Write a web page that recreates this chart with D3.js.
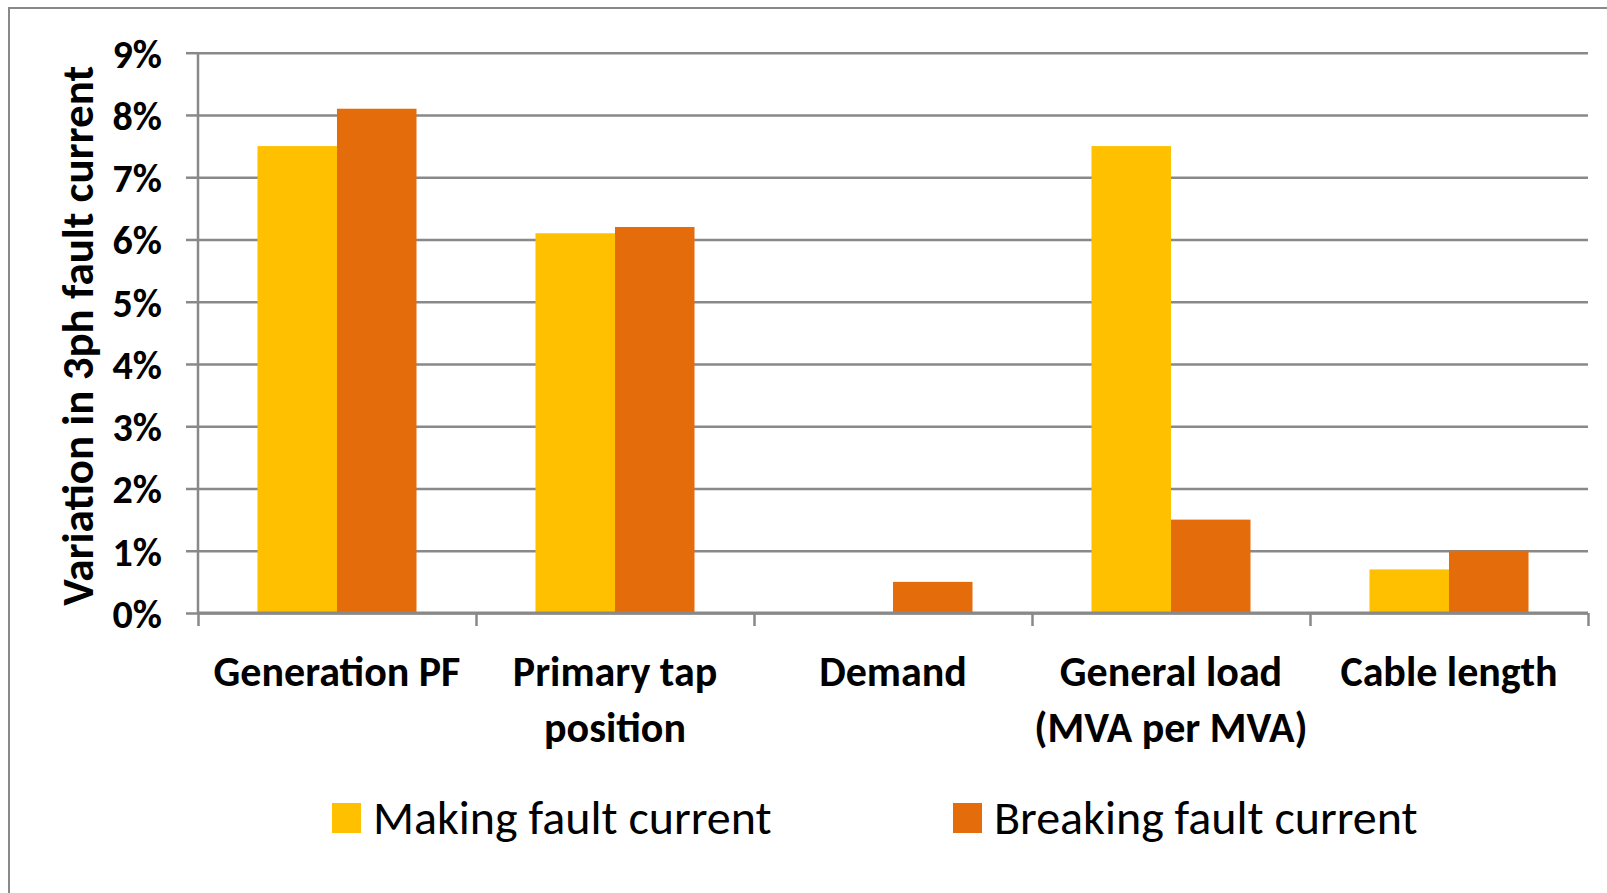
<!DOCTYPE html>
<html>
<head>
<meta charset="utf-8">
<script src="https://cdn.jsdelivr.net/npm/d3@7"></script>
<style>
  body { margin: 0; background: #fff; }
  svg { display: block; font-family: Carlito, Calibri, Lato, sans-serif; }
</style>
</head>
<body>
<svg id="chart" width="1607" height="893"></svg>
<script>
// data
let categories = [["Generation PF"], ["Primary tap", "position"], ["Demand"], ["General load", "(MVA per MVA)"], ["Cable length"]];
let seriesNames = ["Making fault current", "Breaking fault current"];
let making = [0.075, 0.061, 0, 0.075, 0.007];
let breaking = [0.081, 0.062, 0.005, 0.015, 0.010];
let yTicks = [0, 0.01, 0.02, 0.03, 0.04, 0.05, 0.06, 0.07, 0.08, 0.09];
let colors = ["#FFC000", "#E46C0A"];

let gridColor = "#898989";

let svg = d3.select('#chart');

// outer frame (cut off at right and bottom like the source)
svg.append('path')
  .attr('d', 'M9,900V8H1620')
  .style('fill', 'none')
  .style('stroke', gridColor)
  .style('stroke-width', '2px');

let plotL = 198, plotR = 1588, plotT = 52.7, plotB = 613;

let catKeys = categories.map(d => d.join(' '));

let x0 = d3.scaleBand()
  .domain(catKeys)
  .range([plotL, plotR])
  .paddingInner(0.428)
  .paddingOuter(0.214);

let x1 = d3.scaleBand()
  .domain(seriesNames)
  .range([0, x0.bandwidth()]);

let y = d3.scaleLinear()
  .domain([0, 0.09])
  .range([plotB, plotT]);

// gridlines + y ticks
let yAxis = svg.append('g')
  .attr('transform', `translate(${plotL},0)`)
  .call(d3.axisLeft(y).tickValues(yTicks).tickSize(12).tickFormat(d3.format('.0%')));

yAxis.select('.domain').remove();
yAxis.selectAll('.tick line')
  .style('stroke', gridColor)
  .style('stroke-width', '2.5px');

svg.append('g')
  .attr('transform', `translate(${plotL},0)`)
  .call(d3.axisLeft(y).tickValues(yTicks).tickSize(-(plotR - plotL)).tickFormat(''))
  .call(g => g.select('.domain').remove())
  .selectAll('.tick line')
  .style('stroke', gridColor)
  .style('stroke-width', '2.5px');

yAxis.selectAll('.tick text')
  .attr('x', -36)
  .attr('dy', '0.36em')
  .style('font-family', 'Carlito, Calibri, Lato, sans-serif')
  .style('font-size', '40px')
  .style('font-weight', 'bold')
  .style('fill', '#000');

// bars
let rows = catKeys.map((c, i) => ({cat: c, vals: [making[i], breaking[i]]}));

svg.append('g')
  .selectAll('g.cat')
  .data(rows)
  .enter()
  .append('g')
  .attr('class', 'cat')
  .attr('transform', d => `translate(${x0(d.cat)},0)`)
  .selectAll('rect')
  .data(d => d.vals.map((v, j) => ({name: seriesNames[j], v: v, j: j})))
  .enter()
  .append('rect')
  .attr('x', d => x1(d.name))
  .attr('width', x1.bandwidth())
  .attr('y', d => y(d.v))
  .attr('height', d => y(0) - y(d.v))
  .style('fill', d => colors[d.j]);

// y axis line and category axis
svg.append('line')
  .attr('x1', plotL).attr('x2', plotL)
  .attr('y1', plotT).attr('y2', plotB)
  .style('stroke', gridColor)
  .style('stroke-width', '2.5px');

let xEdges = d3.scaleLinear().domain([0, catKeys.length]).range([plotL, plotR]);
let xAxis = svg.append('g')
  .attr('transform', `translate(0,${plotB})`)
  .call(d3.axisBottom(xEdges).ticks(catKeys.length).tickSize(13).tickFormat(''));
xAxis.select('.domain')
  .attr('d', `M${plotL},0H${plotR}`)
  .style('stroke', gridColor)
  .style('stroke-width', '3px');
xAxis.selectAll('.tick line')
  .style('stroke', gridColor)
  .style('stroke-width', '2.5px');

// category labels
let catLabels = svg.append('g')
  .selectAll('text.cat')
  .data(categories)
  .enter()
  .append('text')
  .attr('class', 'cat')
  .attr('x', (d, i) => x0(catKeys[i]) + x0.bandwidth() / 2)
  .attr('y', 686)
  .attr('text-anchor', 'middle')
  .style('font-size', '42px')
  .style('font-weight', 'bold');

catLabels.selectAll('tspan')
  .data(d => d)
  .enter()
  .append('tspan')
  .attr('x', function() { return d3.select(this.parentNode).attr('x'); })
  .attr('dy', (d, i) => i == 0 ? 0 : 56)
  .text(d => d);

// y axis title
svg.append('text')
  .attr('transform', `translate(93,${(plotT + plotB) / 2 + 3}) rotate(-90)`)
  .attr('text-anchor', 'middle')
  .style('font-size', '45px')
  .style('font-weight', 'bold')
  .text('Variation in 3ph fault current');

// legend
let legendX = [332, 953];
let legend = svg.append('g')
  .selectAll('g.leg')
  .data(seriesNames)
  .enter()
  .append('g')
  .attr('class', 'leg')
  .attr('transform', (d, i) => `translate(${legendX[i]},803)`);

legend.append('rect')
  .attr('width', 29)
  .attr('height', 30)
  .style('fill', (d, i) => colors[i]);

legend.append('text')
  .attr('x', 41)
  .attr('y', 31)
  .style('font-size', '48px')
  .text(d => d);
</script>
</body>
</html>
